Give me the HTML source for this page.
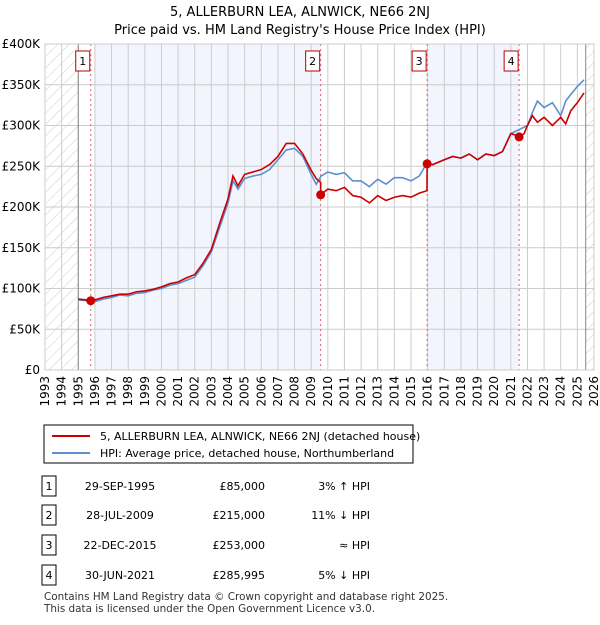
<!DOCTYPE html>
<html><head><meta charset="utf-8"><style>
body{margin:0;background:#fff;font-family:"Liberation Sans","DejaVu Sans",sans-serif;}
svg text{font-family:"DejaVu Sans","Liberation Sans",sans-serif;}
</style></head><body>
<svg id="c" width="600" height="620" xmlns="http://www.w3.org/2000/svg">
<defs><pattern id="hatch" width="8" height="8" patternUnits="userSpaceOnUse" patternTransform="rotate(45)"><line x1="0" y1="0" x2="0" y2="8" stroke="#ccc" stroke-width="1"/></pattern></defs>
<text x="300" y="16" text-anchor="middle" font-size="13">5, ALLERBURN LEA, ALNWICK, NE66 2NJ</text>
<text x="300" y="34" text-anchor="middle" font-size="13">Price paid vs. HM Land Registry's House Price Index (HPI)</text>
<g id="plot"></g>
<g>
<rect x="44" y="425" width="369" height="38" fill="#fff" stroke="#000"/>
<line x1="52" y1="436" x2="90" y2="436" stroke="#cc0000" stroke-width="2"/>
<text x="100" y="440" font-size="11">5, ALLERBURN LEA, ALNWICK, NE66 2NJ (detached house)</text>
<line x1="52" y1="453" x2="90" y2="453" stroke="#5b8fd0" stroke-width="2"/>
<text x="100" y="457" font-size="11">HPI: Average price, detached house, Northumberland</text>
</g>
<g id="table" font-size="11"></g>
<text x="44" y="600" font-size="10.4" fill="#333">Contains HM Land Registry data © Crown copyright and database right 2025.</text>
<text x="44" y="612" font-size="10.4" fill="#333">This data is licensed under the Open Government Licence v3.0.</text>
</svg>
<script>
const yearTicks=[1993,1994,1995,1996,1997,1998,1999,2000,2001,2002,2003,2004,2005,2006,2007,2008,2009,2010,2011,2012,2013,2014,2015,2016,2017,2018,2019,2020,2021,2022,2023,2024,2025,2026];
const valueTicks=[0,50,100,150,200,250,300,350,400];
const valueLabels=["£0","£50K","£100K","£150K","£200K","£250K","£300K","£350K","£400K"];
const hpiT=[1995,1995.5,1996,1996.5,1997,1997.5,1998,1998.5,1999,1999.5,2000,2000.5,2001,2001.5,2002,2002.5,2003,2003.5,2004,2004.3,2004.6,2005,2005.5,2006,2006.5,2007,2007.5,2008,2008.5,2009,2009.3,2009.6,2010,2010.5,2011,2011.5,2012,2012.5,2013,2013.5,2014,2014.5,2015,2015.5,2015.9,2016.3,2017,2017.5,2018,2018.5,2019,2019.5,2020,2020.5,2021,2021.5,2022,2022.3,2022.6,2023,2023.5,2024,2024.3,2024.6,2025,2025.4];
const hpiV=[86,85,84,87,89,92,91,94,95,98,100,104,106,110,114,128,145,175,205,232,222,235,238,240,246,258,270,272,262,240,228,238,243,240,242,232,232,225,234,228,236,236,232,238,252,252,258,262,260,265,258,265,263,268,290,295,300,316,330,322,328,312,330,338,348,356];
const priceT=[1995,1995.5,1995.75,1996,1996.5,1997,1997.5,1998,1998.5,1999,1999.5,2000,2000.5,2001,2001.5,2002,2002.5,2003,2003.5,2004,2004.3,2004.6,2005,2005.5,2006,2006.5,2007,2007.5,2008,2008.5,2009,2009.3,2009.57,2009.57,2010,2010.5,2011,2011.5,2012,2012.5,2013,2013.5,2014,2014.5,2015,2015.5,2015.96,2015.97,2016.3,2017,2017.5,2018,2018.5,2019,2019.5,2020,2020.5,2021,2021.3,2021.5,2021.8,2022,2022.3,2022.6,2023,2023.5,2024,2024.3,2024.6,2025,2025.4];
const priceV=[87,86,85,86,89,91,93,93,96,97,99,102,106,108,113,117,131,148,180,210,238,226,240,243,246,252,262,278,278,265,245,235,230,215,222,220,224,214,212,205,214,208,212,214,212,217,220,253,252,258,262,260,265,258,265,263,268,290,288,286,290,300,312,304,310,300,310,302,318,328,340];
const sales=[{n:"1",t:1995.75,v:85,date:"29-SEP-1995",price:"£85,000",rel:"3% ↑ HPI"},{n:"2",t:2009.57,v:215,date:"28-JUL-2009",price:"£215,000",rel:"11% ↓ HPI"},{n:"3",t:2015.97,v:253,date:"22-DEC-2015",price:"£253,000",rel:"≈ HPI"},{n:"4",t:2021.5,v:286,date:"30-JUN-2021",price:"£285,995",rel:"5% ↓ HPI"}];
const NS="http://www.w3.org/2000/svg";
const X0=45,X1=594,Y0=370,Y1=44;
const x=t=>X0+(t-1993)/(2026-1993)*(X1-X0);
const y=v=>Y0-v/400*(Y0-Y1);
function mk(tag,attrs,parent){const e=document.createElementNS(NS,tag);for(const k in attrs)e.setAttribute(k,attrs[k]);parent.appendChild(e);return e;}
const p=document.getElementById('plot');
let r=mk('rect',{x:X0,y:Y1,width:X1-X0,height:Y0-Y1,fill:'#fff'},p);


[[1996,2009.57],[2015.97,2021.5]].forEach(b=>{const e=mk('rect',{x:x(b[0]),y:Y1,width:x(b[1])-x(b[0]),height:Y0-Y1,fill:'#f2f5fd'},p);

});
let h=mk('rect',{x:X0,y:Y1,width:x(1995)-X0,height:Y0-Y1,fill:'url(#hatch)'},p);


h=mk('rect',{x:x(2025.5),y:Y1,width:X1-x(2025.5),height:Y0-Y1,fill:'url(#hatch)'},p);


yearTicks.forEach(t=>{mk('line',{x1:x(t),x2:x(t),y1:Y1,y2:Y0,stroke:'#ccc'},p);
const tx=mk('text',{x:0,y:0,'font-size':12,'text-anchor':'end',transform:`translate(${x(t)+4},${Y0+6}) rotate(-90)`},p);tx.textContent=t;

});
valueTicks.forEach((v,i)=>{mk('line',{x1:X0,x2:X1,y1:y(v),y2:y(v),stroke:'#ccc'},p);
const tx=mk('text',{x:X0-5,y:y(v)+4,'font-size':12,'text-anchor':'end'},p);tx.textContent=valueLabels[i];

});
mk('line',{x1:x(1995),x2:x(1995),y1:Y1,y2:Y0,stroke:'#888'},p);
mk('line',{x1:x(2025.5),x2:x(2025.5),y1:Y1,y2:Y0,stroke:'#888'},p);
sales.forEach(s=>mk('line',{x1:x(s.t),x2:x(s.t),y1:Y1,y2:Y0,stroke:'#e06070','stroke-dasharray':'2,3'},p));
let l=mk('polyline',{points:hpiT.map((t,i)=>x(t)+','+y(hpiV[i])).join(' '),fill:'none',stroke:'#5b8fd0','stroke-width':1.6},p);


l=mk('polyline',{points:priceT.map((t,i)=>x(t)+','+y(priceV[i])).join(' '),fill:'none',stroke:'#cc0000','stroke-width':1.6},p);


sales.forEach(s=>{const c=mk('circle',{cx:x(s.t),cy:y(s.v),r:4.5,fill:'#cc0000'},p);


const g=mk('g',{},p);


mk('rect',{x:x(s.t)-15,y:51,width:14,height:20,fill:'#fff',stroke:'#b00'},g);
const tx=mk('text',{x:x(s.t)-8,y:65,'font-size':11,'text-anchor':'middle'},g);tx.textContent=s.n;});
mk('rect',{x:X0,y:Y1,width:X1-X0,height:Y0-Y1,fill:'none',stroke:'#ccc'},p);
const tb=document.getElementById('table');
const rowsY=[486,515,545,575];
sales.forEach((s,i)=>{const g=mk('g',{},tb);


const yy=rowsY[i];
mk('rect',{x:42,y:yy-10,width:14,height:20,fill:'#fff',stroke:'#000'},g);
let t=mk('text',{x:49,y:yy+4,'text-anchor':'middle'},g);t.textContent=s.n;
t=mk('text',{x:120,y:yy+4,'text-anchor':'middle'},g);t.textContent=s.date;
t=mk('text',{x:265,y:yy+4,'text-anchor':'end'},g);t.textContent=s.price;
t=mk('text',{x:370,y:yy+4,'text-anchor':'end'},g);t.textContent=s.rel;});
</script>
</body></html>
